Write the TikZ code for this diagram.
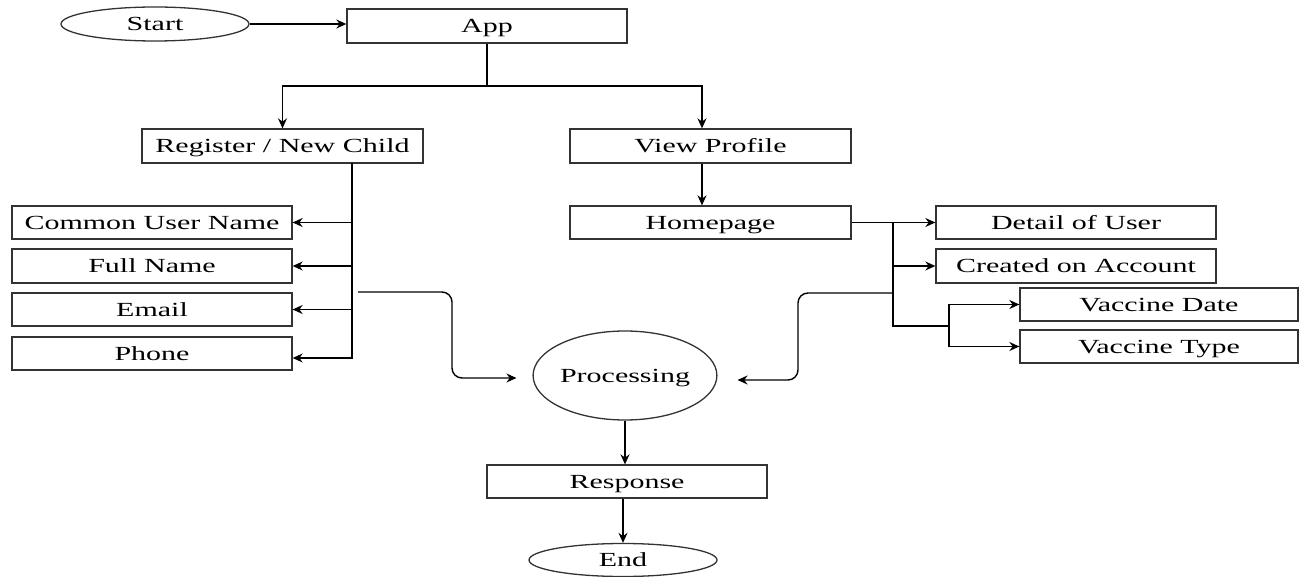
\documentclass[tikz,border=0pt]{standalone}
\usepackage{fontspec}
\setmainfont[FakeStretch=1.5]{Liberation Serif}
\usetikzlibrary{arrows.meta,shapes.geometric}
\begin{document}
\begin{tikzpicture}[x=1pt,y=-1pt,
  lbl/.style={inner sep=0pt, text height=13.3pt, text depth=0pt, font=\fontsize{20}{24}\selectfont},
  box/.style={lbl, draw=black!80, line width=1.3pt, minimum width=280pt, minimum height=34pt},
  term/.style={lbl, ellipse, draw=black!80, line width=1.3pt, minimum width=188pt, minimum height=34pt},
  conn/.style={line width=1.4pt, -{Stealth[length=10pt,width=9pt]}},
  plain/.style={line width=1.4pt}]
\fill[white] (0,0) rectangle (1299,577);
\useasboundingbox (0,0) rectangle (1299,577);

% nodes
\node[term] (start) at (155,24) {Start};
\node[box] (app) at (487,26) {App};
\node[box, minimum width=281pt] (reg) at (282.5,146) {Register / New Child};
\node[box, minimum width=281pt] (view) at (710.5,146) {View Profile};
\node[box, minimum width=281pt, minimum height=33pt] (home) at (710.5,222.5) {Homepage};

\node[box, minimum height=33pt] (cun) at (152,222.5) {Common User Name};
\node[box] (full) at (152,266) {Full Name};
\node[box, minimum height=33pt] (email) at (152,309.5) {Email};
\node[box, minimum height=33pt] (phone) at (152,353.5) {Phone};

\node[box, minimum height=33pt] (detail) at (1076,222.5) {Detail of User};
\node[box] (created) at (1076,266) {Created on Account};
\node[box, minimum width=278pt, minimum height=33pt] (vdate) at (1159,304.5) {Vaccine Date};
\node[box, minimum width=278pt, minimum height=33pt] (vtype) at (1159,346.5) {Vaccine Type};

\node[lbl, ellipse, draw=black!80, line width=1.3pt, minimum width=150pt, minimum height=89pt] (proc) at (625,375.5) {Processing};
\node[box, minimum height=33pt] (resp) at (627,481.5) {Response};
\node[term, minimum height=33pt] (end) at (623,560) {End};

% coordinates
\coordinate (split) at (487,86);
\coordinate (lt) at (352,163);
\coordinate (lc) at (358,292);
\coordinate (lv) at (452,330);
\coordinate (rt) at (893,222.5);
\coordinate (rb) at (893,326);
\coordinate (vs) at (949,326);
\coordinate (rc) at (893,293);
\coordinate (rv) at (798,330);

% connectors
\draw[conn] (start.east) -- (start.east -| app.west);
\draw[plain] (app.south) -- (split);
\draw[conn] (split) -| (reg.north);
\draw[conn] (split) -| ([xshift=-8.5pt]view.north);
\draw[conn] ([xshift=-8.5pt]view.south) -- ([xshift=-8.5pt]home.north);

\draw[conn] (lt) |- ([yshift=-4.5pt]phone.east);
\draw[conn] (lt |- cun.east) -- (cun.east);
\draw[conn] (lt |- full.east) -- (full.east);
\draw[conn] (lt |- email.east) -- (email.east);
\draw[conn, rounded corners=10pt] (lc) -| (lv) |- ([xshift=-16pt,yshift=-2.5pt]proc.west);

\draw[conn] (home.east) -- (detail.west);
\draw[plain] (rt) -- (rb) -- (vs);
\draw[conn] (rt |- created.west) -- (created.west);
\draw[conn] (vs) |- (vdate.west);
\draw[conn] (vs) |- (vtype.west);
\draw[conn, rounded corners=10pt] (rc) -| (rv) |- ([xshift=20pt,yshift=-4.5pt]proc.east);

\draw[conn] (proc.south) -- (proc.south |- resp.north);
\draw[conn] (end.north |- resp.south) -- (end.north);
\end{tikzpicture}
\end{document}
